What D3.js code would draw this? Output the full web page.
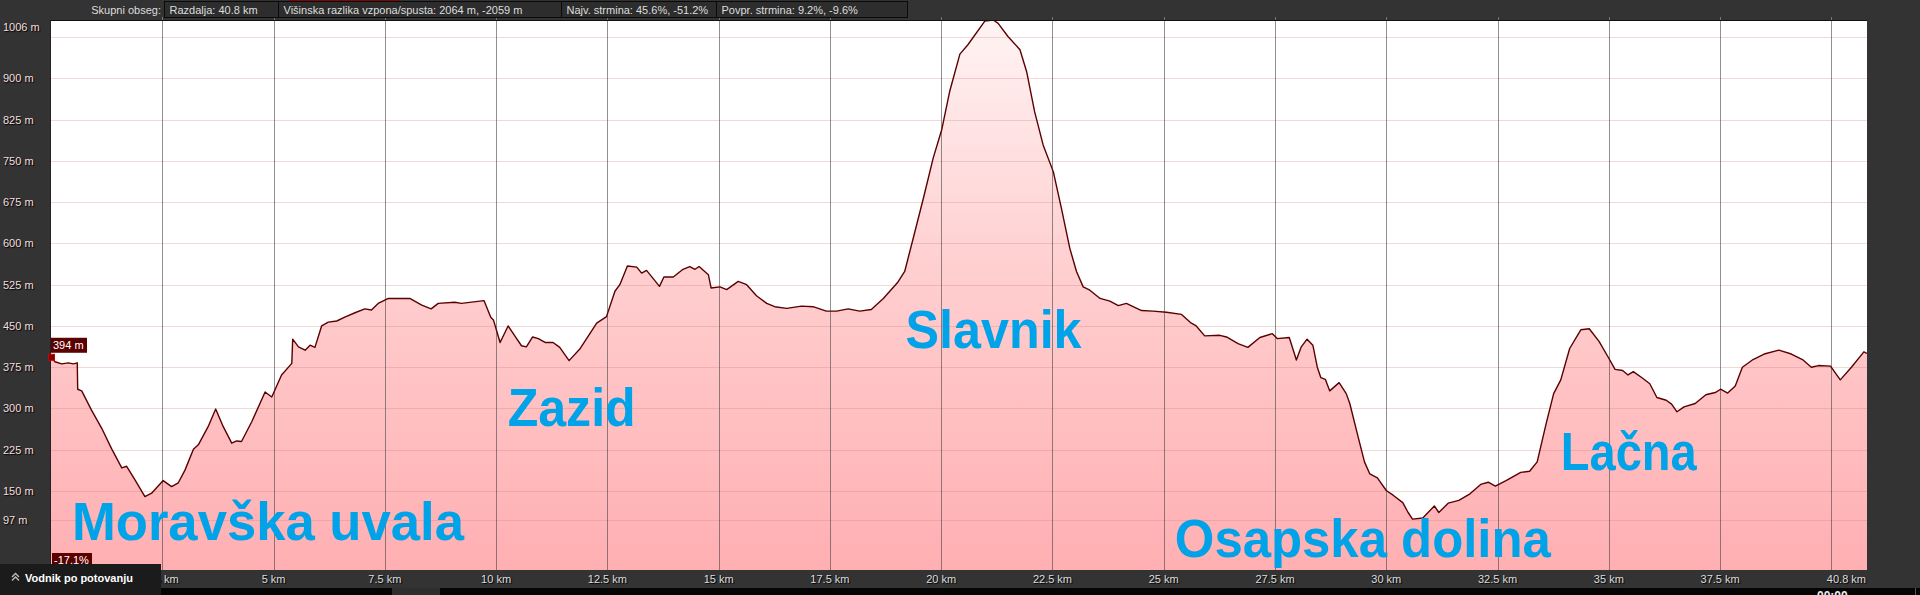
<!DOCTYPE html>
<html>
<head>
<meta charset="utf-8">
<script src="https://cdn.jsdelivr.net/npm/d3@7"></script>
<style>
  html, body { margin: 0; padding: 0; background: #333; overflow: hidden; }
  svg { display: block; }
  text { font-family: "Liberation Sans", Arial, sans-serif; }
</style>
</head>
<body>
<svg id="chart" width="1920" height="595"></svg>
<script>
// Elevation profile (distance in km, elevation in m)
const distKm = [0, 0.09, 0.24, 0.39, 0.50, 0.59, 0.60, 0.69, 0.91, 1.14, 1.36, 1.59, 1.70, 1.89, 2.11, 2.26, 2.52, 2.71, 2.86, 3.01,
  3.20, 3.31, 3.53, 3.70, 3.87, 4.06, 4.17, 4.28, 4.51, 4.81, 4.96, 5.18, 5.41, 5.43, 5.56, 5.71, 5.82, 5.93, 6.08, 6.23,
  6.42, 6.60, 6.83, 7.05, 7.20, 7.35, 7.58, 7.80, 8.06, 8.33, 8.54, 8.70, 9.07, 9.22, 9.73, 9.88, 9.94, 10.09, 10.27, 10.42,
  10.57, 10.68, 10.82, 10.95, 11.10, 11.28, 11.43, 11.64, 11.88, 12.26, 12.48, 12.67, 12.78, 12.95, 13.16, 13.27, 13.38, 13.49, 13.67, 13.77,
  13.98, 14.20, 14.35, 14.47, 14.56, 14.77, 14.83, 15.03, 15.18, 15.44, 15.63, 15.85, 16.08, 16.26, 16.53, 16.86, 17.12, 17.42, 17.65, 17.91,
  18.17, 18.43, 18.70, 19.03, 19.18, 19.37, 19.60, 19.82, 20.01, 20.19, 20.42, 20.60, 20.98, 21.17, 21.28, 21.50, 21.77, 21.92, 22.10, 22.29,
  22.52, 22.70, 22.89, 23.04, 23.19, 23.34, 23.57, 23.79, 23.98, 24.16, 24.50, 24.76, 25.06, 25.40, 25.62, 25.73, 25.92, 26.26, 26.41, 26.67,
  26.89, 27.16, 27.44, 27.55, 27.82, 27.98, 28.09, 28.22, 28.35, 28.45, 28.53, 28.63, 28.73, 28.94, 29.10, 29.18, 29.35, 29.51, 29.63, 29.80,
  30.00, 30.16, 30.37, 30.49, 30.59, 30.82, 31.08, 31.18, 31.39, 31.63, 31.88, 32.12, 32.29, 32.45, 32.69, 33.02, 33.22, 33.39, 33.59, 33.76,
  33.92, 34.12, 34.37, 34.56, 34.78, 34.98, 35.14, 35.31, 35.43, 35.55, 35.76, 35.92, 36.08, 36.29, 36.41, 36.53, 36.69, 36.94, 37.18, 37.39,
  37.51, 37.67, 37.84, 38.00, 38.24, 38.49, 38.82, 39.10, 39.35, 39.55, 39.71, 39.98, 40.20, 40.45, 40.73, 40.8];
const elevM = [394, 385, 381, 383, 381, 383, 335, 332, 297, 264, 227, 192, 195, 170, 140, 146, 169, 158, 165, 188,
  226, 234, 267, 299, 267, 237, 241, 240, 276, 330, 321, 361, 382, 426, 412, 406, 415, 411, 450, 457,
  459, 466, 474, 481, 479, 491, 500, 500, 500, 488, 481, 491, 493, 491, 496, 466, 461, 420, 450, 432,
  414, 412, 430, 427, 420, 420, 411, 387, 408, 455, 467, 513, 525, 559, 557, 546, 551, 540, 522, 539,
  539, 553, 558, 553, 558, 543, 519, 521, 516, 531, 525, 505, 491, 485, 482, 486, 485, 477, 477, 481,
  477, 480, 500, 530, 549, 609, 682, 755, 806, 876, 944, 961, 1004, 1006, 1000, 976, 952, 912, 839, 779,
  730, 664, 591, 549, 521, 515, 500, 495, 487, 491, 478, 477, 475, 471, 455, 450, 432, 433, 430, 418,
  411, 429, 436, 427, 429, 388, 412, 426, 415, 375, 356, 353, 332, 347, 327, 309, 254, 203, 181, 174,
  151, 142, 129, 111, 99, 101, 123, 111, 128, 133, 145, 162, 166, 159, 169, 184, 186, 203, 272, 327,
  352, 409, 443, 445, 422, 394, 371, 369, 361, 367, 355, 345, 320, 315, 308, 294, 303, 309, 325, 329,
  335, 328, 341, 375, 389, 399, 406, 399, 389, 375, 378, 377, 352, 375, 403, 400];

// Axis ticks
const yGridM = [97, 150, 225, 300, 375, 450, 525, 600, 675, 750, 825, 900, 975];
const yLabelM = [97, 150, 225, 300, 375, 450, 525, 600, 675, 750, 825, 900];
const xGridKm = [2.5, 5, 7.5, 10, 12.5, 15, 17.5, 20, 22.5, 25, 27.5, 30, 32.5, 35, 37.5, 40];
const xLabelKm = [2.5, 5, 7.5, 10, 12.5, 15, 17.5, 20, 22.5, 25, 27.5, 30, 32.5, 35, 37.5];

// Summary boxes in the top bar
const summaryTitle = "Skupni obseg:";
const summaryItems = [
  "Razdalja: 40.8 km",
  "Višinska razlika vzpona/spusta: 2064 m, -2059 m",
  "Najv. strmina: 45.6%, -51.2%",
  "Povpr. strmina: 9.2%, -9.6%"
];
const summaryWidths = [114, 283, 155, 191];

// Place names written over the profile
const placeNames = ["Moravška uvala", "Zazid", "Slavnik", "Osapska dolina", "Lačna"];
const placeKm = [0.47, 10.26, 19.2, 25.25, 33.92];
const placeM = [61, 268, 410, 30, 188];
const placeWidth = [392, 128, 176, 376, 136];

const startElev = 394;
const startGrade = "-17.1%";

const W = 1920, H = 595;
const plot = { left: 51, right: 1867, top: 20, bottom: 570 };

const svg = d3.select("#chart");

const x = d3.scaleLinear().domain([0, 40.8]).range([plot.left, plot.right]);
const y = d3.scaleLinear().domain([6.5, 1006]).range([plot.bottom, plot.top]);

const profile = distKm.map((d, i) => ({ km: d, m: elevM[i] }));

// Background
svg.append("rect").attr("width", W).attr("height", H).attr("fill", "#333");
svg.append("rect").attr("x", 0).attr("y", 588).attr("width", W).attr("height", 7).attr("fill", "#050505");
svg.append("rect").attr("x", 392).attr("y", 588).attr("width", 48).attr("height", 7).attr("fill", "#2e2e2e");
svg.append("rect").attr("x", 288).attr("y", 0).attr("width", 112).attr("height", 2).attr("fill", "#7a0a0a");

// Defs
const defs = svg.append("defs");
const grad = defs.append("linearGradient")
  .attr("id", "fillGrad")
  .attr("gradientUnits", "userSpaceOnUse")
  .attr("x1", 0).attr("y1", plot.top).attr("x2", 0).attr("y2", plot.bottom);
grad.append("stop").attr("offset", "0%").attr("stop-color", "#fff3f3");
grad.append("stop").attr("offset", "45%").attr("stop-color", "#ffcfd0");
grad.append("stop").attr("offset", "100%").attr("stop-color", "#ffafb2");
defs.append("clipPath").attr("id", "plotClip")
  .append("rect")
  .attr("x", plot.left).attr("y", plot.top)
  .attr("width", plot.right - plot.left).attr("height", plot.bottom - plot.top);

// Plot background
svg.append("rect")
  .attr("x", plot.left).attr("y", plot.top)
  .attr("width", plot.right - plot.left).attr("height", plot.bottom - plot.top)
  .attr("fill", "#fff");

const g = svg.append("g").attr("clip-path", "url(#plotClip)");

// Area and line
const area = d3.area().x(d => x(d.km)).y0(plot.bottom).y1(d => y(d.m));
const line = d3.line().x(d => x(d.km)).y(d => y(d.m));

g.append("path").datum(profile).attr("d", area).attr("fill", "url(#fillGrad)");

// Grid lines over the fill
g.append("g").selectAll("line")
  .data(yGridM)
  .join("line")
  .attr("x1", plot.left).attr("x2", plot.right)
  .attr("y1", d => Math.round(y(d)) + 0.5).attr("y2", d => Math.round(y(d)) + 0.5)
  .attr("stroke", "rgba(200,120,110,0.27)");

g.append("g").selectAll("line")
  .data(xGridKm)
  .join("line")
  .attr("x1", d => Math.round(x(d)) + 0.5).attr("x2", d => Math.round(x(d)) + 0.5)
  .attr("y1", plot.top).attr("y2", plot.bottom)
  .attr("stroke", "rgba(70,70,70,0.6)");

g.append("path").datum(profile).attr("d", line)
  .attr("fill", "none").attr("stroke", "#5a0000").attr("stroke-width", 1.4)
  .attr("stroke-linejoin", "round");

// Plot borders and small top ticks
svg.append("line").attr("x1", plot.left).attr("x2", plot.right)
  .attr("y1", plot.top + 0.5).attr("y2", plot.top + 0.5).attr("stroke", "#111");
svg.append("line").attr("x1", plot.left - 0.5).attr("x2", plot.left - 0.5)
  .attr("y1", plot.top).attr("y2", plot.bottom).attr("stroke", "#222");
svg.append("g").selectAll("line")
  .data(xGridKm)
  .join("line")
  .attr("x1", d => Math.round(x(d)) + 0.5).attr("x2", d => Math.round(x(d)) + 0.5)
  .attr("y1", plot.top - 3).attr("y2", plot.top)
  .attr("stroke", "#777");

// Y labels
const yLab = svg.append("g")
  .attr("font-size", 11)
  .attr("fill", "#f3dede")
  .style("text-shadow", "1px 1px 1px #000");
yLab.selectAll("text")
  .data(yLabelM)
  .join("text")
  .attr("x", 3)
  .attr("y", d => y(d) + 4)
  .text(d => d + " m");
yLab.append("text").attr("x", 3).attr("y", 31).text("1006 m");

// X labels
const xLab = svg.append("g").attr("font-size", 11).attr("fill", "#ddd")
  .style("text-shadow", "1px 1px 1px #000");
xLab.selectAll("text")
  .data(xLabelKm)
  .join("text")
  .attr("x", d => x(d))
  .attr("y", 583)
  .attr("text-anchor", "middle")
  .text(d => d + " km");
xLab.append("text").attr("x", plot.right - 1).attr("y", 583)
  .attr("text-anchor", "end").text("40.8 km");

// Top summary bar
const topBar = svg.append("g").attr("font-size", 11).attr("fill", "#ddd");
topBar.append("text").attr("x", 161).attr("y", 14).attr("text-anchor", "end").text(summaryTitle);
let bx = 164.5;
summaryItems.forEach((s, i) => {
  topBar.append("rect").attr("x", bx).attr("y", 1.5).attr("width", summaryWidths[i]).attr("height", 16)
    .attr("fill", "#2d2d2d").attr("stroke", "#0a0a0a");
  topBar.append("text").attr("x", bx + 5).attr("y", 14).text(s);
  bx += summaryWidths[i];
});

// Place names
svg.append("g").selectAll("text")
  .data(placeNames)
  .join("text")
  .attr("x", (d, i) => x(placeKm[i]))
  .attr("y", (d, i) => y(placeM[i]))
  .attr("font-family", "Lato, 'Open Sans', sans-serif")
  .attr("font-weight", 700)
  .attr("font-size", 53)
  .attr("fill", "#00a2e8")
  .attr("textLength", (d, i) => placeWidth[i])
  .attr("lengthAdjust", "spacingAndGlyphs")
  .text(d => d);

// Start marker and labels
const sx = x(0), sy = y(startElev);
svg.append("rect").attr("x", sx - 2.5).attr("y", sy - 2.5).attr("width", 6).attr("height", 6)
  .attr("fill", "#7a0000").attr("stroke", "#d00000").attr("stroke-width", 1);
svg.append("rect").attr("x", sx).attr("y", sy - 19).attr("width", 36).attr("height", 15)
  .attr("fill", "#5a0000");
svg.append("text").attr("x", sx + 2).attr("y", sy - 7.5).attr("font-size", 11).attr("fill", "#fff")
  .text(startElev + " m");
svg.append("rect").attr("x", sx + 1).attr("y", 553).attr("width", 40).attr("height", 13)
  .attr("fill", "#5a0000");
svg.append("text").attr("x", sx + 3).attr("y", 563.5).attr("font-size", 11).attr("fill", "#fff")
  .text(startGrade);

// "Vodnik po potovanju" button
svg.append("rect").attr("x", 0).attr("y", 564).attr("width", 161).attr("height", 31).attr("fill", "#1b1b1b");
svg.append("path")
  .attr("d", "M12,577 L15.5,573.5 L19,577 M12,580.5 L15.5,577 L19,580.5")
  .attr("fill", "none").attr("stroke", "#bbb").attr("stroke-width", 1.4);
svg.append("text").attr("x", 25).attr("y", 582).attr("font-size", 11).attr("font-weight", "bold")
  .attr("fill", "#fff").text("Vodnik po potovanju");

// bits in the bottom strip
svg.append("line").attr("x1", 1915.5).attr("x2", 1915.5).attr("y1", 588).attr("y2", 595).attr("stroke", "#555");
svg.append("text").attr("x", 1817).attr("y", 600).attr("font-size", 12).attr("font-weight", "bold")
  .attr("fill", "#eee").text("00:00");
</script>
</body>
</html>
